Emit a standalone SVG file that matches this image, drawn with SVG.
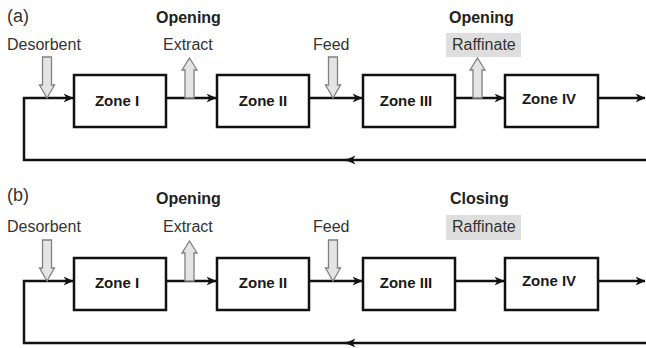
<svg xmlns="http://www.w3.org/2000/svg" width="646" height="348" viewBox="0 0 646 348">
<style>
.lbl{font-family:"Liberation Sans",Arial,sans-serif;font-size:16px;fill:#333}
.pl{font-family:"Liberation Sans",Arial,sans-serif;font-size:18px;fill:#333}
.hd{font-family:"Liberation Sans",Arial,sans-serif;font-size:16px;font-weight:bold;fill:#222}
.zt{font-family:"Liberation Sans",Arial,sans-serif;font-size:15px;font-weight:bold;fill:#1a1a1a;text-anchor:middle}
.box{fill:#fff;stroke:#111;stroke-width:2.5}
.ln{fill:none;stroke:#111;stroke-width:2.5}
.port{fill:#e4e4e4;stroke:#808080;stroke-width:1.3}
.rbox{fill:#dedede}
</style>
<defs>
<marker id="ah" viewBox="0 0 10 10" refX="9.5" refY="5" markerWidth="10" markerHeight="10" markerUnits="userSpaceOnUse" orient="auto">
<path d="M0,0.5 L10,5 L0,9.5 L3,5 Z" fill="#111"/>
</marker>
<path id="down" d="M-4.5,0 H4.5 V28 H7.5 L0,41 L-7.5,28 H-4.5 Z"/>
<path id="up" d="M0,0 L7.5,12 H4.5 V40 H-4.5 V12 H-7.5 Z"/>
</defs>

<!-- Panel (a) -->
<g id="panel-a">
<text class="pl" x="7" y="22">(a)</text>
<text class="hd" x="156" y="23">Opening</text>
<text class="hd" x="449" y="23">Opening</text>
<g id="a-connectors">
<path class="ln" d="M646,160 H346" marker-end="url(#ah)"/>
<path class="ln" d="M350,160 H24 V98 H73" marker-end="url(#ah)"/>
<path class="ln" d="M166,98 H216" marker-end="url(#ah)"/>
<path class="ln" d="M309,98 H362" marker-end="url(#ah)"/>
<path class="ln" d="M455,98 H504" marker-end="url(#ah)"/>
<path class="ln" d="M598,98 H645" marker-end="url(#ah)"/>
</g>
<g id="a-desorbent">
<text class="lbl" x="7" y="50">Desorbent</text>
<use href="#down" class="port" transform="translate(47,57)"/>
</g>
<g id="a-extract">
<text class="lbl" x="163" y="50">Extract</text>
<use href="#up" class="port" transform="translate(189.5,58)"/>
</g>
<g id="a-feed">
<text class="lbl" x="313" y="50">Feed</text>
<use href="#down" class="port" transform="translate(333,57)"/>
</g>
<g id="a-raffinate">
<rect class="rbox" x="446" y="33" width="75" height="24"/>
<text class="lbl" x="452" y="50">Raffinate</text>
<use href="#up" class="port" transform="translate(477.5,58)"/>
</g>
<g id="a-zone1"><rect class="box" x="74" y="75" width="92" height="52"/><text class="zt" x="117" y="105.5">Zone I</text></g>
<g id="a-zone2"><rect class="box" x="217" y="75" width="92" height="52"/><text class="zt" x="263" y="105.5">Zone II</text></g>
<g id="a-zone3"><rect class="box" x="363" y="75" width="92" height="52"/><text class="zt" x="406" y="105.5">Zone III</text></g>
<g id="a-zone4"><rect class="box" x="505" y="75" width="93" height="52"/><text class="zt" x="549" y="103.5">Zone IV</text></g>
</g>

<!-- Panel (b) -->
<g id="panel-b" transform="translate(0,183)">
<text class="pl" x="7" y="18">(b)</text>
<text class="hd" x="156" y="21">Opening</text>
<text class="hd" x="450" y="21">Closing</text>
<g id="b-connectors">
<path class="ln" d="M646,160 H346" marker-end="url(#ah)"/>
<path class="ln" d="M350,160 H24 V98 H73" marker-end="url(#ah)"/>
<path class="ln" d="M166,98 H216" marker-end="url(#ah)"/>
<path class="ln" d="M309,98 H362" marker-end="url(#ah)"/>
<path class="ln" d="M455,98 H504" marker-end="url(#ah)"/>
<path class="ln" d="M598,98 H645" marker-end="url(#ah)"/>
</g>
<g id="b-desorbent">
<text class="lbl" x="7" y="49">Desorbent</text>
<use href="#down" class="port" transform="translate(47,57)"/>
</g>
<g id="b-extract">
<text class="lbl" x="163" y="49">Extract</text>
<use href="#up" class="port" transform="translate(189.5,58)"/>
</g>
<g id="b-feed">
<text class="lbl" x="313" y="49">Feed</text>
<use href="#down" class="port" transform="translate(333,57)"/>
</g>
<g id="b-raffinate">
<rect class="rbox" x="446" y="32" width="75" height="25"/>
<text class="lbl" x="452" y="49">Raffinate</text>
</g>
<g id="b-zone1"><rect class="box" x="74" y="75" width="92" height="52"/><text class="zt" x="117" y="104.5">Zone I</text></g>
<g id="b-zone2"><rect class="box" x="217" y="75" width="92" height="52"/><text class="zt" x="263" y="104.5">Zone II</text></g>
<g id="b-zone3"><rect class="box" x="363" y="75" width="92" height="52"/><text class="zt" x="406" y="104.5">Zone III</text></g>
<g id="b-zone4"><rect class="box" x="505" y="75" width="93" height="52"/><text class="zt" x="549" y="102.5">Zone IV</text></g>
</g>
</svg>
